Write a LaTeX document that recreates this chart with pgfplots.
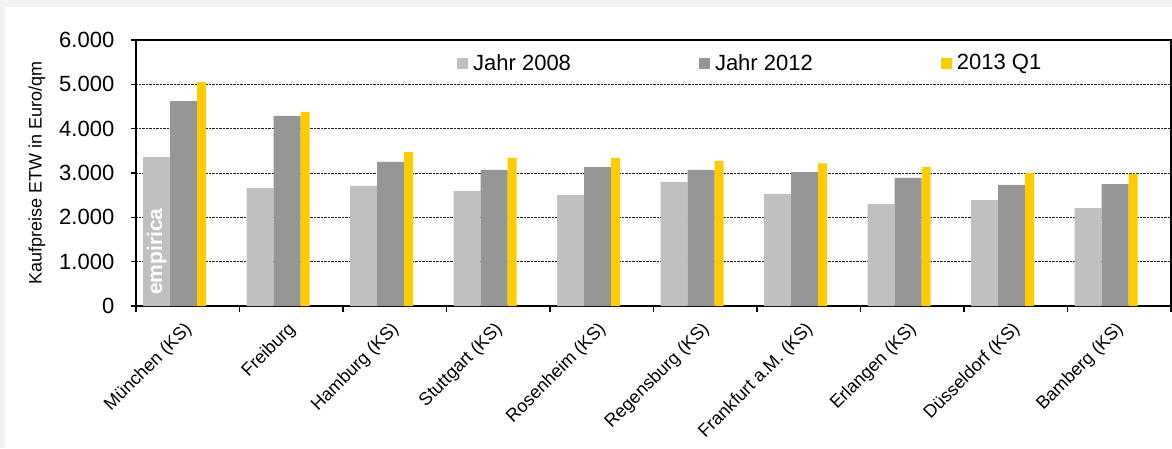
\documentclass[border=0pt]{standalone}
\usepackage{fontspec}
\setmainfont{Liberation Sans}
\usepackage{pgfplots}
\pgfplotsset{compat=1.18}
\definecolor{bgg}{HTML}{F2F2F2}
\definecolor{c08}{HTML}{C0C0C0}
\definecolor{c12}{HTML}{969696}
\definecolor{cq1}{HTML}{FFCC00}
\pgfplotsset{sq legend/.style={legend image code/.code={\fill[##1] (0pt,-5.5pt) rectangle (11pt,5.5pt);}}}
\begin{document}
\begin{tikzpicture}[x=1pt,y=1pt]
\fill[bgg] (0,-448) rectangle (1172,0);
\fill[white] (5,-448) rectangle (1172,-7);
\begin{axis}[
  at={(136pt,-306pt)}, anchor=south west,
  scale only axis, width=1035pt, height=266pt,
  xmin=-0.5, xmax=9.5, ymin=0, ymax=6000,
  ybar,
  xtick={-0.5,0.5,...,9.5},
  xticklabels={München (KS),Freiburg,Hamburg (KS),Stuttgart (KS),Rosenheim (KS),Regensburg (KS),Frankfurt a.M. (KS),Erlangen (KS),Düsseldorf (KS),Bamberg (KS),{}},
  xticklabel style={font=\fontsize{18}{21}\selectfont, xshift=47.25pt, yshift=-9pt, rotate=45, anchor=north east, inner sep=0pt},
  ytick={0,1000,...,6000},
  yticklabels={0,1.000,2.000,3.000,4.000,5.000,6.000},
  yticklabel style={font=\fontsize{22}{26}\selectfont, inner sep=0pt, xshift=-16pt},
  tick align=outside, tick pos=left,
  major tick length=5.5pt,
  tick style={black, line width=1.2pt},
  axis line style={black, line width=1.5pt},
  ymajorgrids, grid style={densely dotted, black!85, line width=0.9pt},
  ylabel={Kaufpreise ETW in Euro/qm},
  every axis y label/.style={at={(axis description cs:-0.09565,0.5)}, rotate=90, anchor=center, font=\fontsize{18}{21}\selectfont},
  legend columns=3,
  legend style={draw=none, fill=none, at={(0.3101,0.9135)}, anchor=west, inner sep=0pt,
    font=\fontsize{22}{26}\selectfont, nodes={inner sep=0pt},
    /tikz/every odd column/.append style={column sep=5pt},
    /tikz/every even column/.append style={column sep=128pt}},
]
\addplot[fill=c08, draw=none, bar width=27pt, bar shift=-31.25pt, sq legend]
  coordinates {(0,3360) (1,2660) (2,2710) (3,2590) (4,2500) (5,2800) (6,2530) (7,2300) (8,2390) (9,2210)};
\addlegendentry{Jahr 2008}
\addplot[fill=c12, draw=none, bar width=27pt, bar shift=-4.25pt, sq legend]
  coordinates {(0,4620) (1,4290) (2,3250) (3,3070) (4,3130) (5,3070) (6,3020) (7,2890) (8,2730) (9,2750)};
\addlegendentry{Jahr 2012}
\addplot[fill=cq1, draw=none, bar width=9pt, bar shift=13.75pt, sq legend]
  coordinates {(0,5050) (1,4380) (2,3470) (3,3340) (4,3340) (5,3270) (6,3220) (7,3130) (8,3000) (9,2980)};
\addlegendentry{2013 Q1}
\node[xshift=-25.75pt, yshift=11pt, rotate=90, anchor=base west, inner sep=0pt,
  font=\bfseries\fontsize{21}{24}\selectfont, text=white] at (axis cs:0,0) {empirica};
\end{axis}
\pgfresetboundingbox
\useasboundingbox (0,-448) rectangle (1172,0);
\end{tikzpicture}
\end{document}
